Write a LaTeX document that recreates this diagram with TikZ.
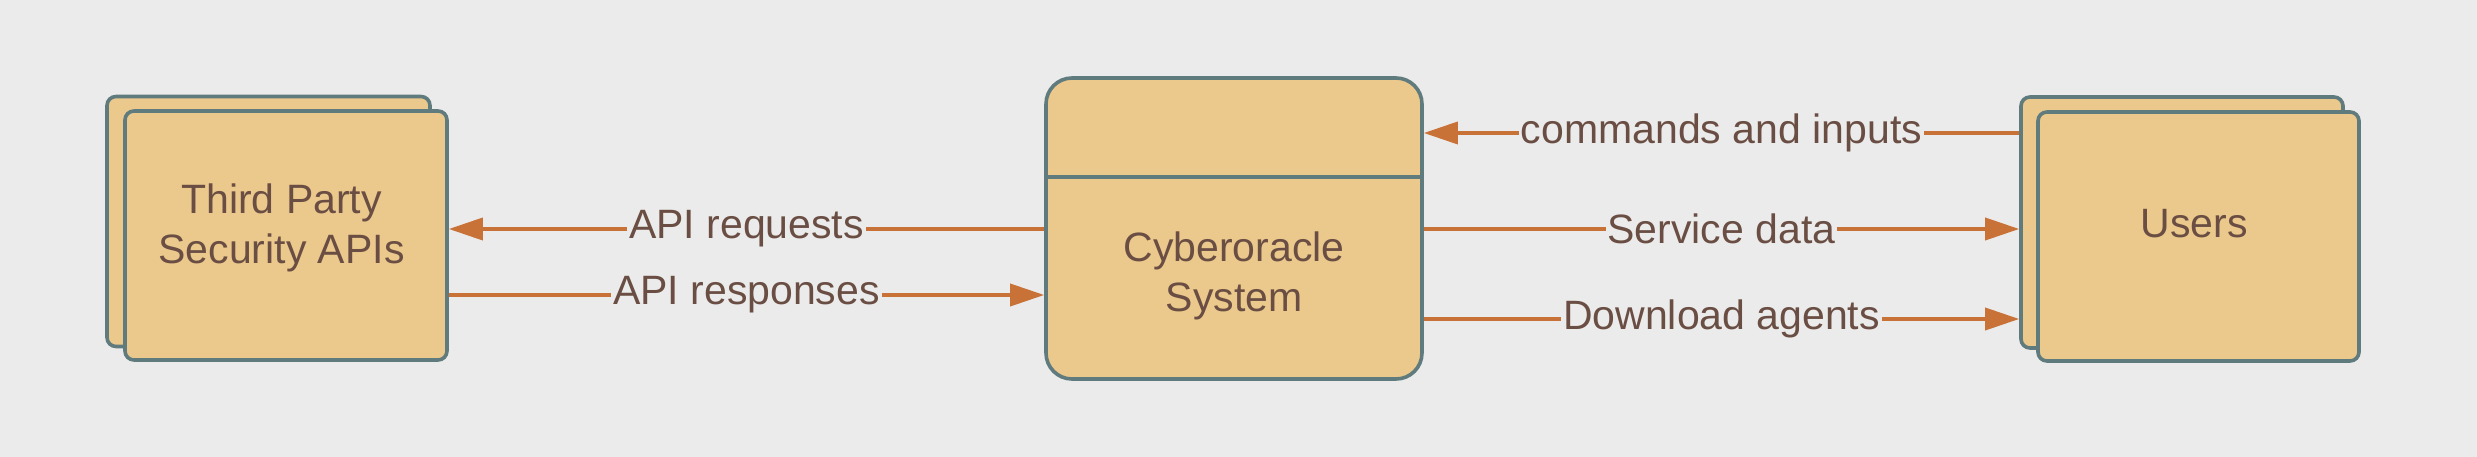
\documentclass[tikz,border=0pt]{standalone}
\usepackage{fontspec}
\setmainfont{Liberation Sans}
\usetikzlibrary{arrows.meta}
\definecolor{bgcol}{HTML}{EBEBEB}
\definecolor{boxfill}{HTML}{EBC88B}
\definecolor{boxline}{HTML}{5F7B7D}
\definecolor{txtcol}{HTML}{6A4E44}
\definecolor{arrcol}{HTML}{C97238}
\tikzset{
  extbox/.style={draw=boxline, fill=boxfill, line width=3.6pt, rounded corners=9pt, inner sep=0pt},
  sysbox/.style={draw=boxline, fill=boxfill, line width=3.6pt, rounded corners=26pt, inner sep=0pt},
  lbl/.style={text=txtcol, font=\fontsize{41}{50}\selectfont, align=center, inner sep=0pt},
  flow/.style={draw=arrcol, line width=3.6pt, -{Triangle[length=34pt,width=22pt]}},
  flowlbl/.style={midway, fill=bgcol, text=txtcol, font=\fontsize{41}{50}\selectfont, inner xsep=2pt, inner ysep=1pt}
}
\begin{document}
\begin{tikzpicture}[x=1pt,y=-1pt]
\fill[bgcol] (0,0) rectangle (2477,457);
\useasboundingbox (0,0) rectangle (2477,457);
% Third party (stacked)
\node[extbox, minimum width=323pt, minimum height=250pt] (tpb) at (268.5,221.5) {};
\node[extbox, minimum width=322pt, minimum height=249pt] (tpf) at (286,235.5) {};
\node[lbl] (tptxt) at (281.5,227.5) {Third Party\\Security APIs};
% System
\node[sysbox, minimum width=376pt, minimum height=301pt] (sys) at (1234,228.5) {};
\draw[boxline, line width=3.6pt] (sys.west |- 0,177) coordinate (divl) -- (sys.east |- 0,177) coordinate (divr);
\node[lbl] (systxt) at (1234,275.5) {Cyberoracle\\System};
% Users (stacked)
\node[extbox, minimum width=322pt, minimum height=251pt] (usb) at (2182,222.5) {};
\node[extbox, minimum width=321pt, minimum height=249pt] (usf) at (2198.5,236.5) {};
\node[lbl] (ustxt) at (2194,223.5) {Users};
% Flows
\draw[flow] (sys.west |- 0,229) -- node[flowlbl] (l1) {API requests} (tpf.east |- 0,229);
\draw[flow] (tpf.east |- 0,295) -- node[flowlbl] (l2) {API responses} (sys.west |- 0,295);
\draw[flow] (usb.west |- 0,133) -- node[flowlbl] (l3) {commands and inputs} (sys.east |- 0,133);
\draw[flow] (sys.east |- 0,229) -- node[flowlbl] (l4) {Service data} (usb.west |- 0,229);
\draw[flow] (sys.east |- 0,319) -- node[flowlbl] (l5) {Download agents} (usb.west |- 0,319);
\end{tikzpicture}
\end{document}
